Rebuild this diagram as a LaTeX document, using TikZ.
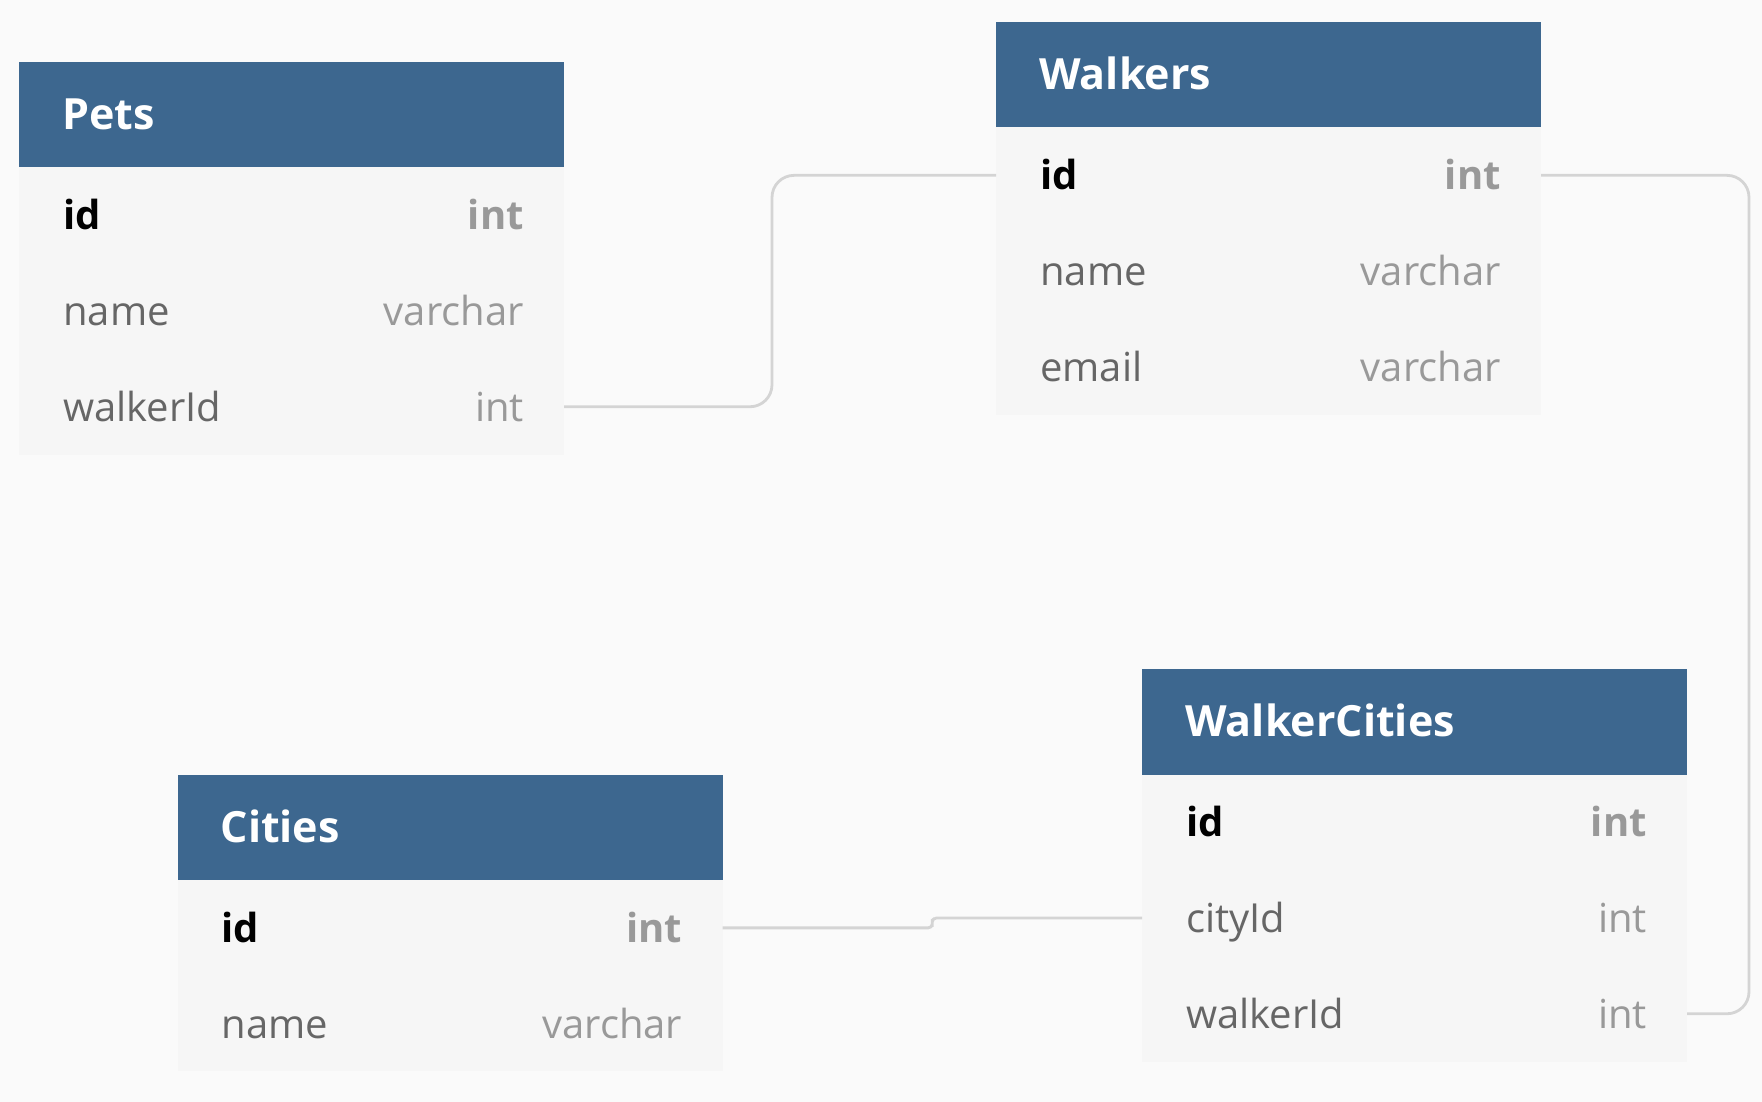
\documentclass[tikz,border=0pt]{standalone}
\usepackage{fontspec}
\setmainfont{Open Sans}
\usetikzlibrary{calc}
\definecolor{bg}{RGB}{250,250,250}
\definecolor{hdrblue}{RGB}{61,103,143}
\definecolor{rowbg}{RGB}{246,246,246}
\definecolor{namegray}{RGB}{102,102,102}
\definecolor{typegray}{RGB}{153,153,153}
\definecolor{linegray}{RGB}{212,212,212}
\tikzset{
  hdr/.style={fill=hdrblue, minimum width=545pt, minimum height=105.5pt, anchor=north west, inner sep=0pt, outer sep=0pt},
  rowbox/.style={fill=rowbg, minimum width=545pt, minimum height=95.7pt, anchor=north west, inner sep=0pt, outer sep=0pt},
  htext/.style={text=white, font=\fontsize{43}{50}\selectfont\bfseries, anchor=base west, inner sep=0pt},
  pkname/.style={text=black, font=\fontsize{40}{48}\selectfont\bfseries, anchor=base west, inner sep=0pt},
  pktype/.style={text=typegray, font=\fontsize{40}{48}\selectfont\bfseries, anchor=base east, inner sep=0pt},
  fname/.style={text=namegray, font=\fontsize{40}{48}\selectfont, anchor=base west, inner sep=0pt},
  ftype/.style={text=typegray, font=\fontsize{40}{48}\selectfont, anchor=base east, inner sep=0pt},
  conn/.style={draw=linegray, line width=2.8pt},
}
\newcommand{\tblhead}[3]{% name, position, title
  \node[hdr] (#1) at (#2) {};
  \node[htext] (#1-title) at ([xshift=43pt,yshift=-15pt]#1.west) {#3};
}
\newcommand{\tblrow}[6]{% name, above, fieldname, fieldtype, namestyle, typestyle
  \node[rowbox] (#1) at (#2.south west) {};
  \node[#5] (#1-n) at ([xshift=44pt,yshift=-14.5pt]#1.west) {#3};
  \node[#6] (#1-t) at ([xshift=-40pt,yshift=-14.5pt]#1.east) {#4};
}
\begin{document}
\begin{tikzpicture}[x=1pt,y=-1pt]
\fill[bg] (0,0) rectangle (1762,1102);
\useasboundingbox (0,0) rectangle (1762,1102);

% Pets
\tblhead{pets}{19,62}{Pets}
\tblrow{pets-id}{pets}{id}{int}{pkname}{pktype}
\tblrow{pets-name}{pets-id}{name}{varchar}{fname}{ftype}
\tblrow{pets-walkerId}{pets-name}{walkerId}{int}{fname}{ftype}

% Walkers
\tblhead{walkers}{996,22}{Walkers}
\tblrow{walkers-id}{walkers}{id}{int}{pkname}{pktype}
\tblrow{walkers-name}{walkers-id}{name}{varchar}{fname}{ftype}
\tblrow{walkers-email}{walkers-name}{email}{varchar}{fname}{ftype}

% Cities
\tblhead{cities}{177.5,774.5}{Cities}
\tblrow{cities-id}{cities}{id}{int}{pkname}{pktype}
\tblrow{cities-name}{cities-id}{name}{varchar}{fname}{ftype}

% WalkerCities
\tblhead{wc}{1142,669}{WalkerCities}
\tblrow{wc-id}{wc}{id}{int}{pkname}{pktype}
\tblrow{wc-cityId}{wc-id}{cityId}{int}{fname}{ftype}
\tblrow{wc-walkerId}{wc-cityId}{walkerId}{int}{fname}{ftype}

% Connectors
\draw[conn, rounded corners=22pt] (pets-walkerId.east) -- ([xshift=208pt]pets-walkerId.east) |- (walkers-id.west);
\draw[conn, rounded corners=22pt] (walkers-id.east) -- ([xshift=208pt]walkers-id.east) |- (wc-walkerId.east);
\draw[conn, rounded corners=4pt] (cities-id.east) -| ($(cities-id.east)!.5!(wc-cityId.west)$) |- (wc-cityId.west);
\end{tikzpicture}
\end{document}
